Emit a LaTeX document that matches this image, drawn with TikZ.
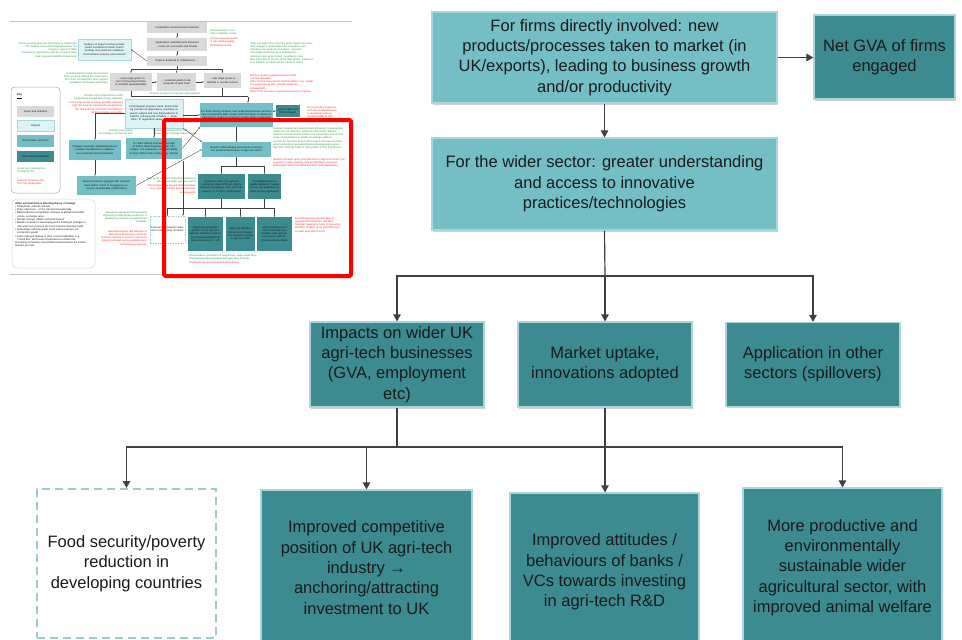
\documentclass[tikz,border=0pt]{standalone}
\usepackage{fontspec}
\setmainfont{Liberation Sans}
\usetikzlibrary{arrows.meta,shadows}

\definecolor{tealL}{HTML}{74BFC5}
\definecolor{tealD}{HTML}{3C8B90}
\definecolor{edgeL}{HTML}{A9D6DA}
\definecolor{dashEdge}{HTML}{9FCACF}
\definecolor{conn}{HTML}{404040}
\definecolor{inkT}{HTML}{1A1A1A}
\definecolor{keyGray}{HTML}{D9D9D9}
\definecolor{outCyan}{HTML}{DDF4F7}
\definecolor{noteGreen}{HTML}{2F9E44}
\definecolor{noteRed}{HTML}{FF2A2A}
\definecolor{frameRed}{HTML}{FF0000}
\definecolor{ruleGray}{HTML}{C4C4C4}

% small box of the overview chart, given by its corners
\newcommand{\thumbbox}[7]{%
  \pgfmathsetmacro{\tbw}{#5-#3-1.2}\pgfmathsetmacro{\tbh}{#6-#4}%
  \pgfmathsetmacro{\tbx}{(#3+#5)/2}\pgfmathsetmacro{\tby}{(#4+#6)/2}%
  \node[#1, text width=\tbw pt, minimum height=\tbh pt] (#2) at (\tbx,\tby) {#7};}

\begin{document}
\begin{tikzpicture}[x=1pt,y=-1pt,
  bigtext/.style={font=\fontsize{16.5}{20.3}\selectfont},
  basebox/.style={rectangle, draw=edgeL, line width=1.2pt, text=inkT, align=center,
    inner sep=0pt, bigtext,
    drop shadow={shadow xshift=1.2pt, shadow yshift=-1.5pt, fill=black!45, opacity=0.4}},
  midbox/.style={basebox, fill=tealL},
  finbox/.style={basebox, fill=tealD},
  extbox/.style={rectangle, draw=dashEdge, line width=2pt, dash pattern=on 8pt off 5pt,
    fill=white, text=inkT, align=center, inner sep=0pt, bigtext},
  arr/.style={draw=conn, line width=1.2pt, -{Triangle[length=7pt,width=7.5pt]}},
  link/.style={draw=conn, line width=1.2pt},
  % overview chart
  tiny/.style={font=\fontsize{2.6}{3.3}\selectfont},
  tb/.style={rectangle, inner sep=0.6pt, align=center, tiny, text=inkT},
  tg/.style={tb, fill=keyGray},
  tc/.style={tb, fill=outCyan, draw=edgeL, line width=0.3pt},
  tm/.style={tb, fill=tealL},
  td/.style={tb, fill=tealD},
  tdash/.style={tb, draw=dashEdge, line width=0.4pt, dash pattern=on 1.5pt off 1pt},
  tnote/.style={tiny, inner sep=0pt},
  tarr/.style={draw=conn, line width=0.35pt, -{Triangle[length=1.4pt,width=1.4pt]}},
  tline/.style={draw=conn, line width=0.35pt},
  hairline/.style={draw=ruleGray, line width=0.6pt}
]
\useasboundingbox (0,0) rectangle (962,640);
\fill[white] (0,0) rectangle (962,640);

% ---------------- overview chart (top left) ----------------
\draw[hairline] (10,21.7) -- (352,21.7);
\draw[hairline] (10,274) -- (162,274);

\thumbbox{tg}{t1}{147}{22}{207}{33}{Competitions launched and marketed}
\thumbbox{tg}{t2}{147}{38}{207}{51}{Applications submitted and assessed -- some are successful and funded}
\thumbbox{tg}{t3}{147}{56}{207}{66}{Projects delivered in collaboration \dots}
\thumbbox{tc}{t4}{78}{39}{131}{60}{Delivery of project involves private sector investment in R\&D (match funding) and new/more collaborations between industry and research}
\thumbbox{tg}{t5}{110}{73}{152}{91}{\dots\ early stage grants to test commercial potential of scientific ideas/feasibility}
\thumbbox{tg}{t6}{157}{73}{196}{91}{\dots\ industrial grants to develop/test at pilot scale}
\thumbbox{tg}{t7}{204}{73}{241}{88}{\dots\ late stage grants to test/trial in real-life context}
\thumbbox{tc}{t8}{125}{99}{183}{128}{Technological progress made, demonstrating commercial applications, providing research outputs and new data/evidence to industry, reducing risk of failure \dots\ acquisition, IP registration where appropriate}
\thumbbox{tm}{t9}{200}{103}{273}{127}{For firms directly involved, new products/processes successfully incorporating R\&D results, and then taken to market (in UK/exports), leading to business growth and/or productivity}
\thumbbox{td}{t10}{276}{105}{300}{117}{GVA of agri-tech firms engaged}
\thumbbox{tm}{t11}{69}{140}{121}{160}{Changes university attitudes/behaviour towards translational \& collaborative research/commercialisation}
\thumbbox{tm}{t12}{126}{138}{182}{159}{For firms directly involved: leverage of further R\&D investment after ATC project. For academics, improved ability to lever further R\&D funding (e.g. RCUK)}
\thumbbox{tm}{t13}{77}{176}{136}{195}{More businesses engaged with research base and/or extent of engagement increases (sustainable collaboration)}
\thumbbox{tm}{t14}{202}{142}{271}{157}{Greater understanding and access to innovative practices/techniques in agri-tech sector}
\thumbbox{td}{t15}{198}{174}{245}{199}{Impacts on wider UK agri-tech businesses (beyond those directly involved in projects): GVA, turnover, exports, no of firms, employment}
\thumbbox{td}{t16}{248}{174}{281}{199}{Innovations/research rapidly adopted in supply chains, and application in other sectors (spillovers)}
\thumbbox{tdash}{t17}{150}{216}{185}{243}{Food security/poverty reduction in developing countries}
\thumbbox{td}{t18}{188}{217}{223}{251}{Improved competitive position of UK agri-tech industry, leading to anchoring investment/additional inward investment to UK}
\thumbbox{td}{t19}{226}{217}{255}{251}{Improved attitudes/ behaviours of banks/ VCs towards investing in agri-tech R\&D}
\thumbbox{td}{t20}{257}{217}{292}{251}{More productive and environmentally sustainable wider agricultural sector, with improved animal welfare}

% key
\draw[draw=black!35, line width=0.5pt, rounded corners=4pt] (11,87) rectangle (60,193);
\node[tnote, anchor=north west] (keyhead) at (17,94) {\textbf{\underline{Key}}};
\thumbbox{tg}{k1}{17}{106}{54}{117}{Inputs and activities}
\thumbbox{tc}{k2}{17}{120}{54}{131}{Outputs}
\thumbbox{tm}{k3}{17}{135}{54}{147}{Intermediate outcomes}
\thumbbox{td}{k4}{17}{151}{54}{162}{Final outcomes/impacts}
\node[tnote, anchor=north west, align=left, text=noteGreen] (kg) at (17,167) {Green text: Assumptions\\underlying ToC};
\node[tnote, anchor=north west, align=left, text=noteRed] (kr) at (17,179) {Red text: Reasons why\\ToC may break down};

% external factors
\draw[draw=black!15, line width=0.5pt, rounded corners=5pt] (12,199) rectangle (95,268);
\node[tnote, anchor=north west, align=left, text=inkT] (ext) at (15,202) {%
\textbf{Other external factors affecting theory of change}\\
• Institutional, cultural contexts\\
• Policy objectives -- in the UK and internationally\\
• Market declines/competition, changes to global commodity\\
\hspace*{2.5pt}prices, exchange rates\\
• Climate change, abiotic and biotic factors\\
• Wealth increases in developing world, leading to changes in\\
\hspace*{2.5pt}diet and more pressure for more resource intensive foods\\
• Technology reducing waste could reduce pressure on\\
\hspace*{2.5pt}production growth\\
• Policy changes helping to drive commercialisation, e.g.\\
\hspace*{2.5pt}Patent Box, which was introduced at a similar time\\
Increasing uncertainty around factors/assumptions the further\\
forward you look};

% assumptions and risks
\node[tnote, anchor=north east, align=right, text=noteGreen] (n1) at (77,42) {Firms receiving grant are more likely to collaborate\\ATC attracts new partnerships/previously not\\engage in agri-tech R\&D\\Cooperative approaches with the research base\\lead to greater benefits for business};
\node[tnote, anchor=north west, align=left, text=noteGreen] (n2) at (210,29) {Demand exists in line\\with competition scope};
\node[tnote, anchor=north west, align=left, text=noteRed] (n3) at (210,37.5) {A poor response results\\in sub-optimal quality\\R\&D being funded};
\node[tnote, anchor=north west, align=left, text=noteGreen] (n4) at (250,42) {Skills and large firms receiving grant support are more\\likely engage in product/process innovation, and\\introduce new products to market -- assumes\\intervention instrumental in enabling this.\\Assumes take-up by market, resulting in sales\\New jobs likely to be part of the R\&D phase, instead of\\or in addition to market phase (result of sales)};
\node[tnote, anchor=north west, align=left, text=noteRed] (n5) at (250,74) {Barriers remain unaddressed that inhibit\\commercialisation\\Other factors may prevent implementation, e.g. capital\\to invest/scale-up tech, broader business\\strategy/skills\\Other costs increase, so productivity doesn't improve};
\node[tnote, anchor=north east, align=right, text=noteGreen] (n6) at (108,72) {Activities/R\&D investment would not\\have occurred without the intervention\\ATC does not duplicate other support\\available in innovation landscape};
\node[tnote, text=noteGreen] (n7) at (175,94) {Projects progress through the grant pipeline};
\node[tnote, anchor=north east, align=right, text=noteGreen] (n8) at (123,94) {At least some projects/successful\\progressing through technology readiness};
\node[tnote, anchor=north east, align=right, text=noteRed] (n9) at (123,101.5) {Some projects fail to deliver possibly reflecting\\high risk projects important for programmes\\like this and may still lead to benefitting a\\skills/knowledge acquisition};
\node[tnote, anchor=north east, align=right, text=noteGreen] (n10) at (133,129) {Industry involvement\\encourages commercial `pull'};
\node[tnote, anchor=north west, align=left, text=noteGreen] (n11) at (153,129) {Enabled/stimulate further R\&D\\private sector to bridge valley of death};
\node[tnote, anchor=north west, align=left, text=noteRed] (n12) at (307,106) {No net positive impact on\\GVA due to displacement\\or deadweight effects\\not attributable to ATC};
\node[tnote, anchor=north west, align=left, text=noteGreen] (n13) at (273,127) {Research outputs are disseminated effectively to appropriate\\audiences via networks; addresses information failures\\Sufficient interest from business and researchers and access\\range of applications to enable knowledge spillover\\Centres for Agricultural Innovation help businesses develop,\\adopt and exploit new agricultural technologies/processes\\Agri-Tech Strategy helps to raise profile of ATC programme};
\node[tnote, anchor=north west, align=left, text=noteRed] (n14) at (273,158) {Results not taken up by potential users in agri-tech sector, risk\\aversion by wider industry, lack of information on how to\\utilise/apply these innovative practices, path dependency};
\node[tnote, anchor=north east, align=right, text=noteGreen] (n15) at (196,177) {Take-up by agri-tech marketing resulting in\\adoption by wider agri-tech sector};
\node[tnote, anchor=north east, align=right, text=noteRed] (n16) at (196,184.5) {Other factors may prevent implementation\\(e.g. capital to invest) broader business\\strategy/skills};
\node[tnote, anchor=north east, align=right, text=noteGreen] (n17) at (147,211) {Research outputs are disseminated\\effectively to appropriate audiences in\\developing countries via appropriate\\networks};
\node[tnote, anchor=north east, align=right, text=noteRed] (n18) at (147,230) {Beliefs/know-how and attitudes of\\agricultural businesses, and their\\financial capacity to invest in new techs\\Results not taken up by potential users\\in developing countries};
\node[tnote, anchor=north west, align=left, text=noteRed] (n19) at (295,217) {Beliefs/know-how and attitudes of\\agricultural businesses, and their\\financial capacity to invest in new techs\\Results not taken up by potential users\\in wider agricultural sector};
\node[tnote, anchor=north west, align=left, text=noteGreen] (n20) at (189,254) {Dissemination, promotion of programme, wider leadership/\\championing role associated with Agri-Tech Strategy};
\node[tnote, anchor=north west, align=left, text=noteRed] (n21) at (189,261) {Continued risk aversion/information failures};

% overview connectors
\draw[tarr] (t1) -- (t2);
\draw[tarr] (t2) -- (t3);
\draw[tarr] (t3.west) -- (t4.east);
\coordinate (tb1) at (177,69);
\draw[tline] (t3.south) -- (tb1);
\draw[tarr] (tb1) -| (t5.north);
\draw[tarr] (tb1) -- (t6.north);
\draw[tarr] (tb1) -| (t7.north);
\draw[tarr] (t5) -- (t6);
\draw[tarr] (t6.east) -- (t7.west |- t6.east);
\coordinate (tp1) at (131,96.5);
\coordinate (tp2) at (248,96.5);
\draw[tline] (t5.south) -- (tp1) -- (tp2);
\draw[tline] (t7.south) -- (t7.south |- tp2);
\draw[tarr] (tp2) -- (tp2 |- t9.north);
\draw[tarr] (t8.east |- t9.west) -- (t9.west);
\draw[tarr] (t9.east |- t10.west) -- (t10.west);
\draw[tarr] (t9) -- (t14);
\coordinate (tb2) at (236.5,166);
\draw[tline] (t14.south) -- (tb2);
\draw[tarr] (tb2) -| (t15.north);
\draw[tarr] (tb2) -| (t16.north);
\coordinate (tb3) at (221.5,208);
\coordinate (tb4) at (264.5,208);
\draw[tline] (t15.south) -- (tb3);
\draw[tline] (t16.south) -- (tb4);
\draw[tline] (tb3) -- (tb4);
\draw[tarr] (tb3) -| (t17.north);
\draw[tarr] (tb3) -| (t18.north);
\draw[tarr] (tb4) -| (t19.north);
\draw[tarr] (tb4) -| (t20.north);
\coordinate (tq) at (183,161);
\draw[tarr] (tq) -- (tq |- t17.north);
\draw[tarr] (t8) -- (t12);
\draw[tarr] (t8.west) -| (t11.north);
\draw[tarr] (t11.south) -- (t11.south |- t13.north);
\draw[tarr] (t13.east) -- (t14.west);
\draw[tarr] (t8.south east) -- (t14.north west);
\draw[tarr] (t12.east) -- (t9.south west);

% highlight frame
\draw[frameRed, line width=4pt, rounded corners=1.5pt] (164,120) rectangle (351,276);

% ---------------- main chart ----------------
\node[midbox, minimum width=345pt, minimum height=91pt] (direct) at (604.5,57.5)
  {For firms directly involved: new\\products/processes taken to market (in\\UK/exports), leading to business growth\\and/or productivity};
\node[finbox, minimum width=141pt, minimum height=84pt] (netgva) at (884.5,57)
  {Net GVA of firms\\engaged};
\node[midbox, minimum width=345pt, minimum height=92pt] (wider) at (604.5,184)
  {For the wider sector: greater understanding\\and access to innovative\\practices/technologies};

\node[finbox, minimum width=174pt, minimum height=85pt] (impacts) at (397,364.5)
  {Impacts on wider UK\\agri-tech businesses\\(GVA, employment\\etc)};
\node[finbox, minimum width=174pt, minimum height=85pt] (uptake) at (605,364.5)
  {Market uptake,\\innovations adopted};
\node[finbox, minimum width=174pt, minimum height=84pt] (spill) at (813,364.5)
  {Application in other\\sectors (spillovers)};

\node[extbox, minimum width=179pt, minimum height=149pt] (food) at (126.5,563.5)
  {Food security/poverty\\reduction in\\developing countries};
\node[finbox, minimum width=211pt, minimum height=155pt] (compet) at (366.5,567.5)
  {Improved competitive\\position of UK agri-tech\\industry →\\anchoring/attracting\\investment to UK};
\node[finbox, minimum width=189pt, minimum height=158pt] (banks) at (604.5,572)
  {Improved attitudes /\\behaviours of banks /\\VCs towards investing\\in agri-tech R\&D};
\node[finbox, minimum width=199pt, minimum height=159pt] (agri) at (842.5,567.5)
  {More productive and\\environmentally\\sustainable wider\\agricultural sector, with\\improved animal welfare};

% connectors
\draw[arr] (direct.east) -- (netgva.west |- direct.east);
\draw[arr] (direct) -- (wider);
\coordinate (split1) at (605,276);
\draw[link] (wider.south) -- (split1);
\draw[arr] (split1) -| (impacts.north);
\draw[arr] (split1) -- (uptake.north);
\draw[arr] (split1) -| (spill.north);
\coordinate (split2) at (397,447);
\coordinate (split3) at (605,447);
\draw[link] (impacts.south) -- (split2);
\draw[link] (uptake.south) -- (split3);
\draw[link] (split2) -- (split3);
\draw[arr] (split2) -| (food.north);
\draw[arr] (split2) -| (compet.north);
\draw[arr] (split3) -- (split3 |- banks.north);
\draw[arr] (split3) -| (agri.north);
\end{tikzpicture}
\end{document}
